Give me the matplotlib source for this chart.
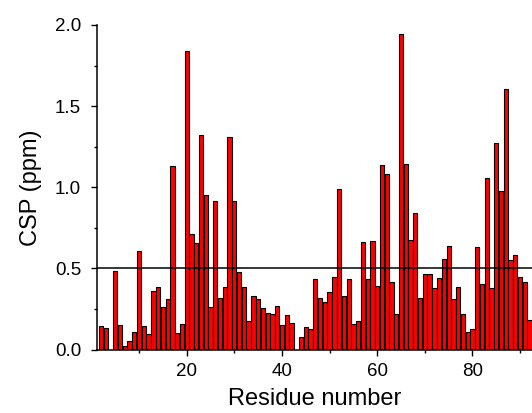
import matplotlib
matplotlib.use("Agg")
import matplotlib.pyplot as plt
from matplotlib.ticker import MultipleLocator

plt.rcParams['font.family'] = ['Liberation Sans', 'DejaVu Sans']

residues = [2, 3, 5, 6, 7, 8, 9, 10, 11, 12, 13, 14, 15, 16, 17, 18, 19, 20,
            21, 22, 23, 24, 25, 26, 27, 28, 29, 30, 31, 32, 33, 34, 35, 36, 37,
            38, 39, 40, 41, 42, 44, 45, 46, 47, 48, 49, 50, 51, 52, 53, 54, 55,
            56, 57, 58, 59, 60, 61, 62, 63, 64, 65, 66, 67, 68, 69, 70, 71, 72,
            73, 74, 75, 76, 77, 78, 79, 80, 81, 82, 83, 84, 85, 86, 87, 88, 89,
            90, 91, 92]
csp = [0.145, 0.133, 0.482, 0.15, 0.022, 0.051, 0.106, 0.61, 0.145, 0.094,
       0.363, 0.388, 0.26, 0.312, 1.131, 0.103, 0.155, 1.842,
       0.71, 0.655, 1.322, 0.952, 0.26, 0.915, 0.316, 0.388, 1.312, 0.914,
       0.48, 0.384, 0.176, 0.33, 0.314, 0.254, 0.224,
       0.222, 0.271, 0.154, 0.211, 0.162, 0.076, 0.139, 0.129, 0.437, 0.316,
       0.295, 0.357, 0.447, 0.989, 0.332, 0.433, 0.158,
       0.174, 0.661, 0.433, 0.669, 0.39, 1.136, 1.08, 0.418, 0.219, 1.945,
       1.142, 0.675, 0.844, 0.318, 0.464, 0.466, 0.377,
       0.439, 0.558, 0.638, 0.314, 0.388, 0.219, 0.106, 0.127, 0.634, 0.402,
       1.055, 0.377, 1.275, 0.979, 1.604, 0.552, 0.581,
       0.445, 0.418, 0.18]
threshold = 0.5

fig = plt.figure(figsize=(5.32, 4.13), dpi=100)
ax = fig.add_axes([0.1818, 0.1535, 0.8182, 0.786])

ax.bar(residues, csp, width=0.9, color='#ff0000', edgecolor='black',
       linewidth=0.8, zorder=2)
ax.axhline(threshold, color='black', linewidth=1.1, zorder=3)

ax.set_xlim(1.1, 92.5)
ax.set_ylim(0, 2.0)

ax.spines['top'].set_visible(False)
ax.spines['right'].set_visible(False)
for s in ('left', 'bottom'):
    ax.spines[s].set_linewidth(1.1)

ax.xaxis.set_major_locator(MultipleLocator(20))
ax.xaxis.set_minor_locator(MultipleLocator(10))
ax.yaxis.set_major_locator(MultipleLocator(0.5))
ax.yaxis.set_minor_locator(MultipleLocator(0.25))
ax.yaxis.set_major_formatter(matplotlib.ticker.FormatStrFormatter('%.1f'))

ax.tick_params(which='major', length=4.3, width=1.0, labelsize=13.5)
ax.tick_params(axis='x', which='major', pad=5)
ax.tick_params(axis='y', which='major', pad=7)
ax.tick_params(which='minor', length=2.3, width=1.0)

ax.set_xlabel('Residue number', fontsize=17, labelpad=6)
ax.set_ylabel('CSP (ppm)', fontsize=17, labelpad=9)

fig.savefig('out.png', dpi=100)
